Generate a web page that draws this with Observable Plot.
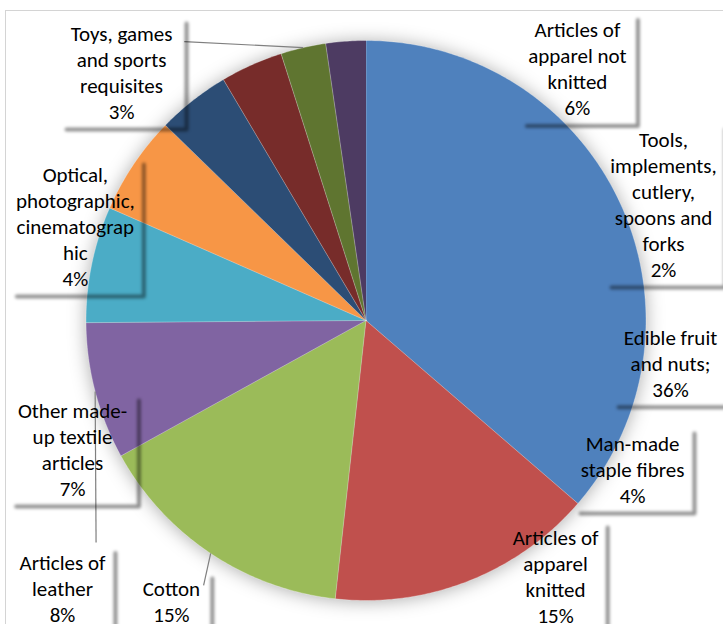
<!DOCTYPE html>
<html><head><meta charset="utf-8">
<script src="https://cdn.jsdelivr.net/npm/d3@7"></script>
<script src="https://cdn.jsdelivr.net/npm/@observablehq/plot@0.6"></script>
<style>
html,body{margin:0;padding:0;background:#fff;}
#wrap{position:relative;width:723px;height:624px;overflow:hidden;}
#frame{position:absolute;left:5px;top:10px;width:900px;height:900px;border-left:1px solid #d4d4d4;border-top:1px solid #d4d4d4;}
#chart{position:absolute;left:0;top:0;}
</style></head><body>
<div id="wrap"><div id="frame"></div><div id="chart"></div></div>
<script>
// ---- data (clockwise from 12 o'clock) ----
const categories = [
  "Edible fruit and nuts;",
  "Articles of apparel knitted",
  "Cotton",
  "Articles of leather",
  "Other made-up textile articles",
  "Articles of apparel not knitted",
  "Optical, photographic, cinematographic",
  "Man-made staple fibres",
  "Toys, games and sports requisites",
  "Tools, implements, cutlery, spoons and forks"
];
const shares = [36.3, 15.4, 15.2, 7.9, 6.7, 5.7, 4.2, 3.6, 2.6, 2.3];
const labelLines = [
  ["Edible fruit", "and nuts;"],
  ["Articles of", "apparel", "knitted"],
  ["Cotton"],
  ["Articles of", "leather"],
  ["Other made-", "up textile", "articles"],
  ["Articles of", "apparel not", "knitted"],
  ["Optical,", "photographic,", "cinematograp", "hic"],
  ["Man-made", "staple fibres"],
  ["Toys, games", "and sports", "requisites"],
  ["Tools,", "implements,", "cutlery,", "spoons and", "forks"]
];
const colors = ["#4F81BD","#C0504D","#9BBB59","#8064A2","#4BACC6","#F79646","#2C4D75","#772C2A","#5F7530","#4D3B62"];

// ---- label layout (pie-radius units, centre of pie = 0,0) ----
const labelCenter = [
  [1.0875, -0.149], [0.677, -0.911], [-0.695, -1.0], [-1.084, -0.955], [-1.048, -0.457],
  [0.755, 0.902], [-1.038, 0.339], [0.952, -0.529], [-0.873, 0.889], [1.0625, 0.418]
];
const boxHalfWidth = [0.214, 0.179, 0.139, 0.182, 0.230, 0.209, 0.2375, 0.214, 0.225, 0.214];
const leaderStart = {2: [-0.580, -0.946], 3: [-0.964, -0.793], 8: [-0.649, 0.996]};

// ---- geometry ----
const W = 723, H = 624, K = 280; // px per radius
const cx = 365.5, cy = 320;
const xDomain = [-cx / K, (W - cx) / K];
const yDomain = [-(H - cy) / K, cy / K];
const fs = 21, lh = 26;

const total = d3.sum(shares);
const arcs = d3.pie().sort(null).value(d => d)(shares);

const slicePts = [];
arcs.forEach((a, i) => {
  slicePts.push({i, x: 0, y: 0});
  const n = Math.max(2, Math.ceil((a.endAngle - a.startAngle) / 0.01));
  for (let k = 0; k <= n; k++) {
    const t = a.startAngle + (a.endAngle - a.startAngle) * k / n;
    slicePts.push({i, x: Math.sin(t), y: Math.cos(t)});
  }
});

const labels = categories.map((c, i) => {
  const lines = labelLines[i].concat([Math.round(shares[i] / total * 100) + "%"]);
  const [lx, ly] = labelCenter[i];
  const hh = (lines.length * lh / 2 + 4) / K;
  const hw = boxHalfWidth[i];
  return {i, text: lines.join("\n"), x: lx, y: ly, x1: lx - hw, x2: lx + hw, y1: ly + hh, y2: ly - hh};
});

const shadowPts = [];
labels.forEach(l => {
  shadowPts.push({i: l.i, x: l.x2, y: l.y1 - 6 / K});
  shadowPts.push({i: l.i, x: l.x2, y: l.y2});
  shadowPts.push({i: l.i, x: l.x1 + 6 / K, y: l.y2});
});

const leaders = Object.entries(leaderStart).map(([k, s]) => {
  const a = arcs[+k];
  const m = (a.startAngle + a.endAngle) / 2;
  return {x1: s[0], y1: s[1], x2: Math.sin(m), y2: Math.cos(m)};
});

const chart = Plot.plot({
  width: W, height: H,
  margin: 0,
  x: {domain: xDomain, axis: null},
  y: {domain: yDomain, axis: null},
  color: {type: "identity"},
  style: {background: "transparent", fontFamily: "Calibri, Carlito, Lato, sans-serif"},
  marks: [
    Plot.line(slicePts, {
      x: "x", y: "y", z: "i",
      fill: d => colors[d.i],
      stroke: "white", strokeWidth: 0.6, strokeOpacity: 0.5,
      imageFilter: "drop-shadow(0px 1px 9px rgba(0,0,0,0.32))"
    }),
    Plot.link(leaders, {x1: "x1", y1: "y1", x2: "x2", y2: "y2", stroke: "#7f7f7f", strokeWidth: 1.2}),
    Plot.line(shadowPts, {
      x: "x", y: "y", z: "i",
      stroke: "#000", strokeOpacity: 0.42, strokeWidth: 4, dx: 2, dy: 2,
      imageFilter: "blur(1.8px)"
    }),
    Plot.text(labels, {
      x: "x", y: "y", text: "text",
      lineAnchor: "middle", lineHeight: lh / fs,
      fontSize: fs, fill: "#000"
    })
  ]
});
document.getElementById("chart").appendChild(chart);
</script>
</body></html>
